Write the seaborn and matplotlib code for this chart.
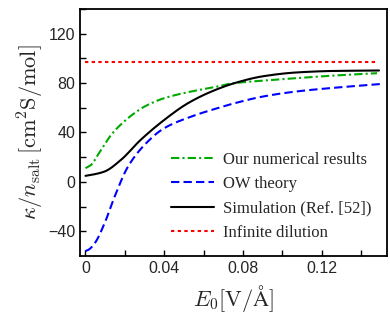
import numpy as np
import pandas as pd
import matplotlib
matplotlib.use("Agg")
import matplotlib.pyplot as plt
import seaborn as sns

# Data
E_green = [0.0, 0.003, 0.0063, 0.010, 0.013, 0.0216, 0.030, 0.040, 0.0537, 0.067, 0.0733, 0.090, 0.107, 0.125, 0.148]
k_green = [11.1, 14.0, 21.9, 31.0, 38.0, 51.6, 61.0, 67.8, 73.2, 77.2, 79.5, 82.0, 84.0, 86.0, 88.0]

E_blue = [0.0, 0.0015, 0.0047, 0.0097, 0.0148, 0.0216, 0.030, 0.040, 0.0537, 0.067, 0.0757, 0.090, 0.107, 0.124, 0.151]
k_blue = [-56.0, -55.0, -49.7, -33.5, -11.9, 12.4, 30.0, 43.5, 52.9, 59.7, 63.7, 69.1, 73.2, 75.9, 79.4]

E_black = [0.0, 0.004, 0.0097, 0.018, 0.028, 0.040, 0.052, 0.064, 0.0757, 0.090, 0.107, 0.125, 0.149]
k_black = [4.9, 6.0, 8.4, 17.8, 34.0, 50.2, 63.7, 73.2, 80.0, 85.5, 88.6, 89.8, 90.2]

E_red = [0.0, 0.148]
k_red = [97.0, 97.0]

labels = ["Our numerical results", "OW theory", "Simulation (Ref. [52])", "Infinite dilution"]

sns.set_theme(style="white")
plt.rcParams["mathtext.fontset"] = "cm"
plt.rcParams["font.family"] = ["Liberation Sans", "DejaVu Sans"]

fig = plt.figure(figsize=(3.9, 3.21), dpi=100)
ax = fig.add_axes([0.205, 0.2025, 0.787, 0.7695])

def smooth(x, y, n=200):
    x = np.asarray(x, float); y = np.asarray(y, float)
    xs = np.linspace(x[0], x[-1], n)
    h = np.diff(x); d = np.diff(y) / h
    m = np.zeros_like(y)
    for i in range(1, len(x) - 1):
        if d[i - 1] * d[i] > 0:
            w1 = 2 * h[i] + h[i - 1]; w2 = h[i] + 2 * h[i - 1]
            m[i] = (w1 + w2) / (w1 / d[i - 1] + w2 / d[i])
    m[0] = d[0]; m[-1] = d[-1]
    idx = np.clip(np.searchsorted(x, xs) - 1, 0, len(x) - 2)
    t = (xs - x[idx]) / h[idx]
    h00 = 2*t**3 - 3*t**2 + 1; h10 = t**3 - 2*t**2 + t
    h01 = -2*t**3 + 3*t**2; h11 = t**3 - t**2
    ys = h00*y[idx] + h10*h[idx]*m[idx] + h01*y[idx+1] + h11*h[idx]*m[idx+1]
    return xs, ys

series = [
    (E_green, k_green, "#00aa00", (0, (4, 1.5, 1, 1.5))),
    (E_blue, k_blue, "#0000ff", (0, (4, 2))),
    (E_black, k_black, "black", "-"),
    (E_red, k_red, "#ff0000", (0, (1.6, 1.6))),
]
for (x, y, c, ls), lab in zip(series, labels):
    xs, ys = smooth(x, y) if len(x) > 2 else (np.array(x), np.array(y))
    df = pd.DataFrame({"E": xs, "k": ys})
    sns.lineplot(data=df, x="E", y="k", ax=ax, color=c, lw=1.5, label=lab)
    ax.lines[-1].set_linestyle(ls)

ax.set_xlim(-0.0028, 0.153)
ax.set_ylim(-60, 140)
ax.set_xticks([0, 0.04, 0.08, 0.12])
ax.set_xticklabels(["0", "0.04", "0.08", "0.12"])
ax.set_xticks(np.arange(0.02, 0.15, 0.04), minor=True)
ax.set_yticks([-40, 0, 40, 80, 120])
ax.set_yticks([-20, 20, 60, 100, 140], minor=True)
ax.tick_params(which="both", direction="in", length=4, width=1, color="black",
               labelsize=11.5, bottom=True, left=True, top=False, right=False)
ax.tick_params(which="minor", labelbottom=False, labelleft=False)
for s in ax.spines.values():
    s.set_color("black")
    s.set_linewidth(1.3)

ax.set_xlabel(r"$E_0[\mathrm{V}/\mathrm{\AA}]$", fontsize=16, labelpad=5)
ax.set_ylabel(r"$\kappa/n_{\rm salt}\,[{\rm cm}^2{\rm S/mol}]$", fontsize=16, labelpad=1)

leg = ax.legend(loc="lower right", frameon=False, prop={"family": "Liberation Serif", "size": 12},
                handlelength=2.6, handletextpad=0.55, labelspacing=0.5,
                bbox_to_anchor=(1.0, 0.0))

fig.savefig("out.png", dpi=100)
